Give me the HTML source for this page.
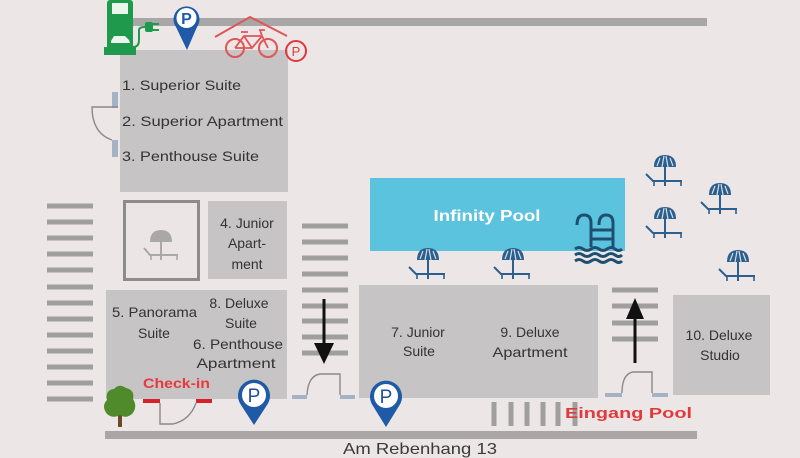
<!DOCTYPE html>
<html><head><meta charset="utf-8"><style>
html,body{margin:0;padding:0;background:#ece7e6;}
svg{display:block;}
text{font-family:"Liberation Sans",sans-serif;}
</style></head><body>
<svg width="800" height="458" viewBox="0 0 800 458" xmlns="http://www.w3.org/2000/svg">
<defs>
<g id="umb">
  <path d="M-11,12 Q-11,0 0,0 Q11,0 11,12 Z" fill="#2c5f8d"/>
  <path d="M-3,12 L-1,1 M3,12 L1,1 M-8,11 L-5,3 M8,11 L5,3" stroke="#ffffff" stroke-width="1.2" opacity="0.8"/>
  <line x1="0" y1="12" x2="0" y2="31" stroke="#2c5f8d" stroke-width="2"/>
  <polyline points="-19,19 -12,26 17,26" fill="none" stroke="#2c5f8d" stroke-width="2"/>
  <path d="M-11,26 V31 M16,26 V31" stroke="#2c5f8d" stroke-width="1.6"/>
</g>
<g id="umbg">
  <path d="M-11,12 Q-11,0 0,0 Q11,0 11,12 Z" fill="#a9a7a7"/>
  <line x1="0" y1="12" x2="0" y2="30" stroke="#a9a7a7" stroke-width="2"/>
  <polyline points="-17,18 -11,25 17,25" fill="none" stroke="#a9a7a7" stroke-width="2"/>
  <path d="M-10,25 V30 M16,25 V30" stroke="#a9a7a7" stroke-width="1.6"/>
</g>
</defs>

<rect width="800" height="458" fill="#ece7e6"/>

<!-- roads -->
<rect x="133" y="18" width="574" height="8" fill="#a8a6a6"/>
<rect x="105" y="431" width="592" height="8" fill="#a8a6a6"/>
<text x="420" y="454" font-size="16" fill="#3a3a3a" text-anchor="middle" textLength="154" lengthAdjust="spacingAndGlyphs">Am Rebenhang 13</text>

<!-- building 1 -->
<rect x="120" y="50" width="168" height="142" fill="#c6c4c4"/>
<text x="122" y="90" font-size="14" fill="#333" textLength="119" lengthAdjust="spacingAndGlyphs">1. Superior Suite</text>
<text x="122" y="126" font-size="14" fill="#333" textLength="161" lengthAdjust="spacingAndGlyphs">2. Superior Apartment</text>
<text x="122" y="161" font-size="14" fill="#333" textLength="137" lengthAdjust="spacingAndGlyphs">3. Penthouse Suite</text>
<!-- left door -->
<rect x="112" y="92" width="6" height="16" fill="#a3b3c3"/>
<rect x="112" y="140" width="6" height="17" fill="#a3b3c3"/>
<path d="M118,107 H92 Q92,133 112,140" fill="none" stroke="#8a8a8a" stroke-width="1.4"/>

<!-- charger -->
<rect x="107" y="0" width="26" height="50" rx="3" fill="#1f9a4c"/>
<rect x="104" y="47" width="32" height="8" fill="#1f9a4c"/>
<rect x="112" y="3" width="16" height="11" fill="#ffffff" opacity="0.9"/>
<path d="M111,41 L114,36 L125,36 L129,40 L130,43 L111,43 Z" fill="#ffffff" opacity="0.9"/>
<path d="M133,47 Q139,47 139,40 V30 Q139,27 145,27" fill="none" stroke="#1f9a4c" stroke-width="2"/>
<rect x="145" y="22" width="8" height="10" rx="2" fill="#1f9a4c"/>
<path d="M153,24 H159 M153,30 H159" stroke="#1f9a4c" stroke-width="2"/>

<!-- top P pin -->
<path d="M187,50 L176,27 A13,13 0 1 1 197,27 Z" fill="#1e5aa8"/>
<circle cx="186.5" cy="18" r="10" fill="#ffffff"/>
<text x="186.5" y="24" font-size="16" font-weight="bold" fill="#1e5aa8" text-anchor="middle">P</text>

<!-- bike shelter -->
<polyline points="215,37 250,17 287,36" fill="none" stroke="#e05555" stroke-width="2"/>
<circle cx="235" cy="48" r="9" fill="none" stroke="#e05555" stroke-width="2"/>
<circle cx="268" cy="48" r="9" fill="none" stroke="#e05555" stroke-width="2"/>
<path d="M235,48 L244,36 L262,36 L268,48 M244,36 L252,48 L262,36 M241,32 H248 M262,36 L260,30 H265 M252,48 L235,48" fill="none" stroke="#e05555" stroke-width="1.8"/>
<circle cx="296" cy="51" r="10" fill="none" stroke="#e0383e" stroke-width="2"/>
<text x="296" y="56" font-size="13" fill="#e0383e" text-anchor="middle">P</text>

<!-- left stairs -->
<g fill="#a09e9e">
<rect x="47" y="203.5" width="46" height="5"/><rect x="47" y="219.5" width="46" height="5"/>
<rect x="47" y="235.5" width="46" height="5"/><rect x="47" y="251.5" width="46" height="5"/>
<rect x="47" y="267.5" width="46" height="5"/><rect x="47" y="284.5" width="46" height="5"/>
<rect x="47" y="300.5" width="46" height="5"/><rect x="47" y="316.5" width="46" height="5"/>
<rect x="47" y="332.5" width="46" height="5"/><rect x="47" y="348.5" width="46" height="5"/>
<rect x="47" y="364.5" width="46" height="5"/><rect x="47" y="380.5" width="46" height="5"/>
<rect x="47" y="396.5" width="46" height="5"/>
</g>

<!-- terrace square -->
<rect x="124.5" y="201.5" width="74" height="78" fill="#ebe6e5" stroke="#8d8b8b" stroke-width="3"/>
<use href="#umbg" x="161" y="230"/>

<!-- building 4 -->
<rect x="208" y="201" width="79" height="78" fill="#c6c4c4"/>
<g font-size="14" fill="#333" text-anchor="middle">
<text x="247" y="228">4. Junior</text>
<text x="247" y="248">Apart-</text>
<text x="247" y="269">ment</text>
</g>

<!-- building 5/8/6 -->
<rect x="106" y="290" width="181" height="109" fill="#c6c4c4"/>
<g font-size="14" fill="#333">
<text x="112" y="317" textLength="85" lengthAdjust="spacingAndGlyphs">5. Panorama</text>
<text x="154" y="338" text-anchor="middle">Suite</text>
<text x="239" y="308" text-anchor="middle">8. Deluxe</text>
<text x="241" y="328" text-anchor="middle">Suite</text>
<text x="238" y="349" text-anchor="middle" textLength="90" lengthAdjust="spacingAndGlyphs">6. Penthouse</text>
<text x="236" y="368" text-anchor="middle" textLength="79" lengthAdjust="spacingAndGlyphs">Apartment</text>
</g>
<text x="143" y="388" font-size="14" font-weight="bold" fill="#e8393f" textLength="67" lengthAdjust="spacingAndGlyphs">Check-in</text>
<rect x="143" y="399" width="17" height="4" fill="#d8202a"/>
<rect x="196" y="399" width="16" height="4" fill="#d8202a"/>
<path d="M160,403 V424 H173 Q190,420 196,403" fill="none" stroke="#8a8a8a" stroke-width="1.4"/>

<!-- tree -->
<rect x="118" y="405" width="4" height="22" fill="#6b4a2a"/>
<path d="M107,414 Q101,406 107,400 Q105,390 114,389 Q119,383 126,388 Q135,390 133,399 Q138,407 132,414 Q126,419 120,415 Q113,419 107,414 Z" fill="#4f8a2b"/>

<!-- bottom P pin 1 -->
<path d="M254,425 L241,405 A16,16 0 1 1 267,405 Z" fill="#1e5aa8"/>
<circle cx="254" cy="395" r="12" fill="#ffffff"/>
<text x="254" y="402" font-size="19" fill="#1e4f98" text-anchor="middle">P</text>

<!-- middle stairs -->
<g fill="#a09e9e">
<rect x="302" y="223.5" width="46" height="5"/><rect x="302" y="239.5" width="46" height="5"/>
<rect x="302" y="255.5" width="46" height="5"/><rect x="302" y="271.5" width="46" height="5"/>
<rect x="302" y="287.5" width="46" height="5"/><rect x="302" y="303.5" width="46" height="5"/>
<rect x="302" y="318.5" width="46" height="5"/><rect x="302" y="334.5" width="46" height="5"/>
<rect x="302" y="350.5" width="46" height="5"/>
</g>
<line x1="324" y1="299" x2="324" y2="348" stroke="#111" stroke-width="3"/>
<path d="M314,343 L334,343 L324,364 Z" fill="#111"/>
<rect x="292" y="395" width="15" height="4" fill="#a3b3c3"/>
<rect x="340" y="395" width="15" height="4" fill="#a3b3c3"/>
<path d="M307,395 Q308,376 320,374 H340 V395" fill="none" stroke="#8a8a8a" stroke-width="1.4"/>

<!-- pool -->
<rect x="370" y="178" width="255" height="73" fill="#5cc3df"/>
<text x="487" y="221" font-size="16" font-weight="bold" fill="#ffffff" text-anchor="middle" textLength="107" lengthAdjust="spacingAndGlyphs">Infinity Pool</text>
<g fill="none" stroke="#1f4f70" stroke-width="3">
<path d="M577,225 Q577,215 584,215 Q591,215 591,223 V247"/>
<path d="M599,225 Q599,215 606,215 Q613,215 613,223 V247"/>
<path d="M591,230 H613 M591,239 H613"/>
<path d="M575,249 q4,-3 8,0 t8,0 t8,0 t8,0 t8,0 t7,0"/>
<path d="M575,255 q4,-3 8,0 t8,0 t8,0 t8,0 t8,0 t7,0"/>
<path d="M575,261 q4,-3 8,0 t8,0 t8,0 t8,0 t8,0 t7,0"/>
</g>

<!-- umbrellas -->
<use href="#umb" x="665" y="155"/>
<use href="#umb" x="720" y="183"/>
<use href="#umb" x="665" y="207"/>
<use href="#umb" x="738" y="250"/>
<use href="#umb" x="428" y="248"/>
<use href="#umb" x="513" y="248"/>

<!-- building 7/9 -->
<rect x="359" y="285" width="239" height="113" fill="#c6c4c4"/>
<g font-size="14" fill="#333" text-anchor="middle">
<text x="418" y="337">7. Junior</text>
<text x="419" y="356">Suite</text>
<text x="530" y="337">9. Deluxe</text>
<text x="530" y="357" textLength="75" lengthAdjust="spacingAndGlyphs">Apartment</text>
</g>

<!-- bottom P pin 2 -->
<path d="M386,427 L373,406 A16,16 0 1 1 399,406 Z" fill="#1e5aa8"/>
<circle cx="386" cy="396" r="12" fill="#ffffff"/>
<text x="386" y="403" font-size="19" fill="#1e4f98" text-anchor="middle">P</text>

<!-- vertical bars -->
<g fill="#a09e9e">
<rect x="491.5" y="402" width="5" height="24"/><rect x="508.5" y="402" width="5" height="24"/>
<rect x="524.5" y="402" width="5" height="24"/><rect x="540.5" y="402" width="5" height="24"/>
<rect x="555.5" y="402" width="5" height="24"/><rect x="572.5" y="402" width="5" height="24"/>
</g>

<!-- right stairs -->
<g fill="#a09e9e">
<rect x="612" y="287.5" width="46" height="5"/><rect x="612" y="303.5" width="46" height="5"/>
<rect x="612" y="320.5" width="46" height="5"/><rect x="612" y="336.5" width="46" height="5"/>
</g>
<line x1="635" y1="314" x2="635" y2="363" stroke="#111" stroke-width="3"/>
<path d="M626,319 L644,319 L635,298 Z" fill="#111"/>
<rect x="605" y="393" width="17" height="4" fill="#a3b3c3"/>
<rect x="652" y="393" width="16" height="4" fill="#a3b3c3"/>
<path d="M622,393 Q622,374 633,372 H652 V393" fill="none" stroke="#8a8a8a" stroke-width="1.4"/>
<text x="565" y="418" font-size="15" font-weight="bold" fill="#e0393e" textLength="127" lengthAdjust="spacingAndGlyphs">Eingang Pool</text>

<!-- building 10 -->
<rect x="673" y="295" width="97" height="100" fill="#c6c4c4"/>
<g font-size="14" fill="#333" text-anchor="middle">
<text x="719" y="340">10. Deluxe</text>
<text x="720" y="360">Studio</text>
</g>
</svg>
</body></html>
